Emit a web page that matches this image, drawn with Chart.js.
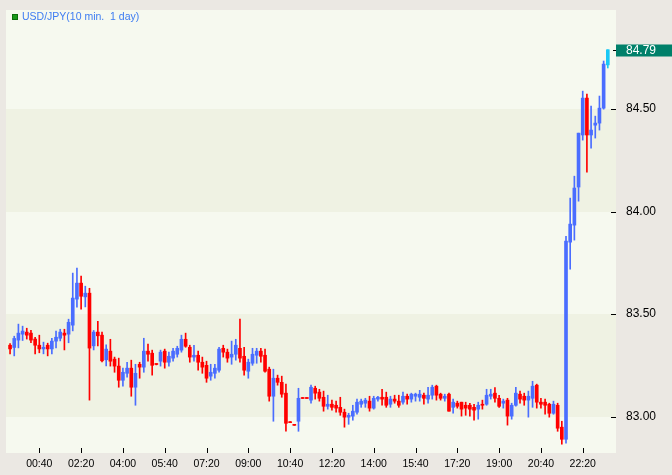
<!DOCTYPE html>
<html><head><meta charset="utf-8">
<script src="https://cdn.jsdelivr.net/npm/chart.js@4/dist/chart.umd.min.js"></script>
<style>html,body{margin:0;padding:0;background:#ebe8e3;overflow:hidden}</style>
</head><body>
<canvas id="c" width="672" height="475" style="display:block;width:672px;height:475px"></canvas>
<script>
const seriesTitle = "USD/JPY(10 min.  1 day)";
const xTickLabels = ["00:40","02:20","04:00","05:40","07:20","09:00","10:40","12:20","14:00","15:40","17:20","19:00","20:40","22:20"];
const xTickIndex = [7,17,27,37,47,57,67,77,87,97,107,117,127,137];
const yTickValues = [83.0,83.5,84.0,84.5];

const openP = [83.348,83.337,83.373,83.402,83.412,83.407,83.378,83.348,83.330,83.348,
83.330,83.368,83.382,83.407,83.402,83.446,83.573,83.651,83.584,83.602,
83.345,83.412,83.397,83.277,83.319,83.280,83.246,83.177,83.211,83.236,
83.143,83.255,83.241,83.319,83.309,83.257,83.270,83.319,83.265,83.285,
83.304,83.324,83.377,83.338,83.290,83.299,83.265,83.250,83.197,83.211,
83.226,83.333,83.314,83.290,83.304,83.333,83.294,83.221,83.260,83.299,
83.319,83.299,83.231,83.099,83.187,83.167,83.114,82.972,82.959,82.977,
83.090,83.090,83.080,83.138,83.119,83.094,83.050,83.060,83.055,83.045,
83.021,82.997,83.002,83.021,83.060,83.065,83.075,83.041,83.085,83.094,
83.094,83.060,83.085,83.075,83.070,83.099,83.085,83.099,83.094,83.104,
83.085,83.104,83.148,83.109,83.089,83.109,83.045,83.065,83.070,83.055,
83.055,83.045,83.036,83.060,83.060,83.099,83.114,83.089,83.065,83.080,
83.002,83.055,83.109,83.099,83.080,83.089,83.153,83.070,83.070,83.060,
83.016,83.055,82.948,82.889,83.851,83.934,84.120,84.374,84.554,84.374,
84.422,84.432,84.505,84.716];
const highP = [83.356,83.392,83.451,83.441,83.431,83.421,83.387,83.397,83.363,83.358,
83.382,83.417,83.426,83.426,83.475,83.700,83.724,83.685,83.636,83.626,
83.420,83.465,83.412,83.350,83.377,83.290,83.285,83.236,83.265,83.275,
83.255,83.265,83.382,83.353,83.324,83.258,83.324,83.329,83.314,83.333,
83.343,83.397,83.407,83.348,83.348,83.319,83.290,83.270,83.255,83.255,
83.338,83.348,83.329,83.368,83.377,83.475,83.338,83.280,83.333,83.333,
83.333,83.329,83.241,83.231,83.202,83.197,83.158,82.973,82.960,83.138,
83.091,83.091,83.153,83.148,83.133,83.124,83.104,83.080,83.075,83.094,
83.036,83.016,83.055,83.085,83.085,83.089,83.099,83.099,83.099,83.133,
83.119,83.099,83.104,83.104,83.119,83.109,83.114,83.114,83.128,83.114,
83.143,83.153,83.153,83.114,83.109,83.114,83.085,83.075,83.070,83.070,
83.065,83.060,83.070,83.080,83.133,83.133,83.141,83.104,83.085,83.089,
83.065,83.143,83.124,83.114,83.124,83.172,83.158,83.089,83.085,83.065,
83.075,83.065,82.977,83.880,84.066,84.173,84.383,84.588,84.574,84.515,
84.466,84.564,84.735,84.790];
const lowP = [83.306,83.296,83.335,83.371,83.378,83.360,83.306,83.311,83.306,83.296,
83.306,83.335,83.369,83.325,83.360,83.418,83.534,83.524,83.535,83.080,
83.325,83.345,83.267,83.247,83.246,83.216,83.143,83.148,83.192,83.099,
83.055,83.187,83.216,83.270,83.202,83.252,83.246,83.236,83.246,83.270,
83.290,83.314,83.338,83.265,83.270,83.226,83.211,83.167,83.177,83.187,
83.216,83.290,83.265,83.255,83.275,83.265,83.202,83.187,83.250,83.260,
83.265,83.216,83.075,82.977,83.153,83.094,82.928,82.970,82.957,82.928,
83.088,83.088,83.065,83.085,83.075,83.026,83.036,83.031,83.021,83.006,
82.948,82.962,82.982,83.011,83.045,83.045,83.026,83.036,83.075,83.055,
83.045,83.045,83.065,83.045,83.060,83.060,83.070,83.075,83.075,83.060,
83.065,83.085,83.080,83.080,83.075,83.026,83.016,83.041,83.002,83.006,
83.002,82.982,82.987,83.036,83.055,83.085,83.070,83.045,83.041,82.958,
82.987,83.050,83.065,83.055,82.997,83.045,83.041,83.041,83.011,82.997,
83.011,82.928,82.865,82.870,83.719,83.861,84.051,84.349,84.193,84.310,
84.359,84.398,84.500,84.701];
const closeP = [83.330,83.381,83.407,83.417,83.397,83.373,83.348,83.330,83.338,83.330,
83.368,83.387,83.412,83.397,83.460,83.578,83.651,83.587,83.602,83.334,
83.412,83.394,83.272,83.329,83.270,83.246,83.177,83.216,83.236,83.143,
83.211,83.241,83.319,83.304,83.250,83.254,83.314,83.265,83.294,83.319,
83.333,83.377,83.343,83.290,83.299,83.265,83.241,83.187,83.216,83.236,
83.329,83.314,83.285,83.304,83.348,83.285,83.226,83.265,83.304,83.319,
83.294,83.221,83.099,83.187,83.167,83.109,82.967,82.970,82.957,83.089,
83.088,83.088,83.143,83.114,83.089,83.050,83.060,83.045,83.041,83.021,
82.997,83.006,83.026,83.070,83.075,83.080,83.041,83.089,83.094,83.085,
83.055,83.085,83.075,83.055,83.099,83.085,83.109,83.109,83.109,83.089,
83.104,83.143,83.104,83.089,83.099,83.026,83.070,83.050,83.036,83.041,
83.036,83.031,83.055,83.055,83.104,83.109,83.089,83.050,83.075,83.002,
83.055,83.114,83.085,83.080,83.099,83.148,83.070,83.060,83.055,83.016,
83.060,82.943,82.889,83.856,83.939,84.115,84.383,84.554,84.374,84.398,
84.432,84.505,84.720,84.790];

const UP = '#4a6dff', DOWN = '#ff0000', LAST = '#19c8f5';
const n = closeP.length;
function candleColor(i){
  if (i === n - 1) return LAST;
  return closeP[i] >= openP[i] ? UP : DOWN;
}
const idx = closeP.map((_, i) => i);

const bgPlugin = {
  id: 'bg',
  beforeDraw(chart){
    const {ctx, chartArea: a, scales: {y}} = chart;
    ctx.save();
    ctx.fillStyle = '#ebe8e3';
    ctx.fillRect(0, 0, chart.width, chart.height);
    ctx.fillStyle = '#f6f9ef';
    ctx.fillRect(a.left, a.top, a.right - a.left, a.bottom - a.top);
    ctx.fillStyle = '#eff2e3';
    for (let k = 0; k + 1 < yTickValues.length; k += 2) {
      const y1 = Math.round(y.getPixelForValue(yTickValues[k + 1]));
      const y2 = Math.round(y.getPixelForValue(yTickValues[k]));
      ctx.fillRect(a.left, y1, a.right - a.left, y2 - y1);
    }
    ctx.restore();
  },
  afterDraw(chart){
    const {ctx, chartArea: a, scales: {x, y}} = chart;
    ctx.save();
    ctx.strokeStyle = '#000';
    ctx.lineWidth = 1;
    ctx.beginPath();
    xTickIndex.forEach(v => {
      const px = Math.round(x.getPixelForValue(v)) + 0.5;
      ctx.moveTo(px, a.bottom - 5); ctx.lineTo(px, a.bottom);
    });
    yTickValues.forEach(v => {
      const py = Math.round(y.getPixelForValue(v)) + 0.5;
      ctx.moveTo(a.right - 5, py); ctx.lineTo(a.right, py);
    });
    const lastY = Math.round(y.getPixelForValue(closeP[n - 1])) + 0.5;
    ctx.moveTo(a.right - 3, lastY); ctx.lineTo(a.right, lastY);
    ctx.stroke();
    // last price label
    ctx.fillStyle = '#00806a';
    ctx.fillRect(a.right, lastY - 6, chart.width - a.right, 12);
    ctx.fillStyle = '#ffffff';
    ctx.font = "12px 'Liberation Sans', Arial, sans-serif";
    ctx.textBaseline = 'middle';
    ctx.textAlign = 'left';
    ctx.fillText(closeP[n - 1].toFixed(2), a.right + 10, lastY + 0.5);
    // series title
    ctx.fillStyle = '#1a9a1a';
    ctx.fillRect(a.left + 6, a.top + 4, 6, 6);
    ctx.strokeStyle = '#0c6e0c';
    ctx.strokeRect(a.left + 6.5, a.top + 4.5, 5, 5);
    ctx.fillStyle = '#3d7cf2';
    ctx.font = "10.5px 'Liberation Sans', Arial, sans-serif";
    ctx.fillText(seriesTitle, a.left + 16, a.top + 7.5);
    ctx.restore();
  }
};

new Chart(document.getElementById('c'), {
  type: 'bar',
  data: {
    datasets: [
      {
        label: 'body',
        data: idx.map(i => ({x: i, y: [openP[i], closeP[i]]})),
        backgroundColor: c => candleColor(c.dataIndex),
        barThickness: 3,
        minBarLength: 1,
        grouped: false,
        borderWidth: 0
      },
      {
        label: 'wick',
        data: idx.map(i => ({x: i, y: [lowP[i], highP[i]]})),
        backgroundColor: c => candleColor(c.dataIndex),
        barThickness: 1,
        minBarLength: 1,
        grouped: false,
        borderWidth: 0
      }
    ]
  },
  options: {
    responsive: false,
    animation: false,
    events: [],
    layout: {padding: {left: 6, top: 10, right: 0, bottom: 0}},
    plugins: {legend: {display: false}, tooltip: {enabled: false}},
    scales: {
      x: {
        type: 'linear',
        min: -0.97,
        max: 144.96,
        offset: false,
        grid: {display: false, drawTicks: false},
        border: {display: false},
        afterBuildTicks: s => { s.ticks = xTickIndex.map(v => ({value: v})); },
        afterFit: s => { s.height = 22; s.paddingLeft = 0; s.paddingRight = 0; },
        ticks: {
          autoSkip: false, maxRotation: 0, padding: 5,
          color: '#000',
          font: {family: "'Liberation Sans', Arial, sans-serif", size: 10.5},
          callback: v => xTickLabels[xTickIndex.indexOf(v)]
        }
      },
      y: {
        type: 'linear',
        position: 'right',
        min: 82.822,
        max: 84.984,
        grid: {display: false, drawTicks: false},
        border: {display: false},
        afterBuildTicks: s => { s.ticks = yTickValues.map(v => ({value: v})); },
        afterFit: s => { s.width = 56; s.paddingTop = 0; s.paddingBottom = 0; },
        ticks: {
          padding: 10,
          color: '#000',
          font: {family: "'Liberation Sans', Arial, sans-serif", size: 12},
          callback: v => Number(v).toFixed(2)
        }
      }
    }
  },
  plugins: [bgPlugin]
});
</script>
</body></html>
